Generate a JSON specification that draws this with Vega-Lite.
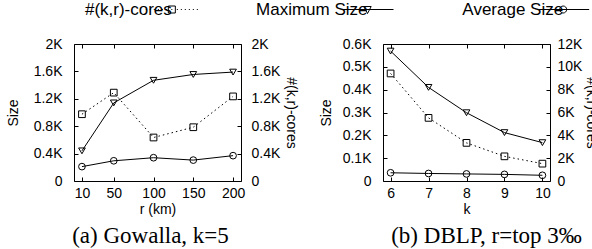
{
  "$schema": "https://vega.github.io/schema/vega-lite/v6.json",
  "padding": {"left": 5, "top": 0, "right": 0, "bottom": 0},
  "spacing": 17,
  "datasets": {
    "legend": [
      {"series": "#(k,r)-cores"},
      {"series": "Maximum Size"},
      {"series": "Average Size"}
    ],
    "gowalla": [
      {"r": 10, "series": "#(k,r)-cores", "value": 975},
      {"r": 50, "series": "#(k,r)-cores", "value": 1290},
      {"r": 100, "series": "#(k,r)-cores", "value": 635},
      {"r": 150, "series": "#(k,r)-cores", "value": 785},
      {"r": 200, "series": "#(k,r)-cores", "value": 1235},
      {"r": 10, "series": "Maximum Size", "value": 440},
      {"r": 50, "series": "Maximum Size", "value": 1140},
      {"r": 100, "series": "Maximum Size", "value": 1470},
      {"r": 150, "series": "Maximum Size", "value": 1555},
      {"r": 200, "series": "Maximum Size", "value": 1590},
      {"r": 10, "series": "Average Size", "value": 210},
      {"r": 50, "series": "Average Size", "value": 295},
      {"r": 100, "series": "Average Size", "value": 340},
      {"r": 150, "series": "Average Size", "value": 305},
      {"r": 200, "series": "Average Size", "value": 370}
    ],
    "dblp": [
      {"k": 6, "series": "#(k,r)-cores", "value": 9420},
      {"k": 7, "series": "#(k,r)-cores", "value": 5530},
      {"k": 8, "series": "#(k,r)-cores", "value": 3340},
      {"k": 9, "series": "#(k,r)-cores", "value": 2160},
      {"k": 10, "series": "#(k,r)-cores", "value": 1520},
      {"k": 6, "series": "Maximum Size", "value": 569},
      {"k": 7, "series": "Maximum Size", "value": 410},
      {"k": 8, "series": "Maximum Size", "value": 299},
      {"k": 9, "series": "Maximum Size", "value": 212},
      {"k": 10, "series": "Maximum Size", "value": 168},
      {"k": 6, "series": "Average Size", "value": 36},
      {"k": 7, "series": "Average Size", "value": 33},
      {"k": 8, "series": "Average Size", "value": 31},
      {"k": 9, "series": "Average Size", "value": 29},
      {"k": 10, "series": "Average Size", "value": 25}
    ]
  },
  "config": {
    "font": "Liberation Sans",
    "view": {"stroke": "black", "strokeWidth": 1},
    "axis": {
      "grid": false, "domain": false, "ticks": true, "tickColor": "black", "tickSize": -4, "tickWidth": 1,
      "labelFont": "Liberation Sans", "labelFontSize": 14, "labelColor": "black", "labelPadding": 9,
      "labelFlush": false, "labelOverlap": false,
      "titleFont": "Liberation Sans", "titleFontSize": 14, "titleFontWeight": "normal", "titleColor": "black"
    },
    "axisLeft": {"labelPadding": 16},
    "axisRight": {"labelPadding": 14},
    "title": {"font": "Liberation Serif", "fontSize": 23, "fontWeight": "normal", "color": "black"}
  },
  "resolve": {"scale": {"shape": "independent"}},
  "vconcat": [
    {
      "width": 587, "height": 19,
      "view": {"stroke": null},
      "data": {"name": "legend"},
      "layer": [
        {
          "mark": {"type": "text", "align": "right", "baseline": "middle", "font": "Liberation Sans", "fontSize": 17, "color": "black"},
          "encoding": {
            "x": {"field": "series", "type": "nominal", "bandPosition": 0.661,
                  "scale": {"domain": ["#(k,r)-cores", "Maximum Size", "Average Size"], "paddingInner": 0, "paddingOuter": 0},
                  "axis": null},
            "text": {"field": "series", "type": "nominal"}
          }
        },
        {
          "mark": {"type": "point", "filled": false, "color": "black", "strokeWidth": 1, "size": 49, "opacity": 1},
          "encoding": {
            "x": {"field": "series", "type": "nominal", "bandPosition": 0.855,
                  "scale": {"domain": ["#(k,r)-cores", "Maximum Size", "Average Size"], "paddingInner": 0, "paddingOuter": 0},
                  "axis": null},
            "shape": {"field": "series", "type": "nominal", "legend": null,
                      "scale": {"domain": ["#(k,r)-cores", "Maximum Size", "Average Size"],
                                "range": [
                                  "M-7.43,0h0.29M-6.29,0h0.29M-5.14,0h0.29M-4,0h0.29M-2.86,0h0.29M-1.71,0h0.29M-0.14,0h0.28M1.43,0h0.29M2.57,0h0.29M3.71,0h0.29M4.86,0h0.29M6,0h0.29M7.14,0h0.29M-1,-1H1V1H-1Z",
                                  "M-7.43,0H7.43M-1.05,-0.85H1.05L0,1.15Z",
                                  "M-7.43,0H7.43M-1,0A1,1,0,1,0,1,0A1,1,0,1,0,-1,0"
                                ]}}
          }
        }
      ]
    },
    {
      "spacing": 19,
      "hconcat": [
        {
          "width": 167, "height": 137,
          "data": {"name": "gowalla"},
          "title": {"text": "(a) Gowalla, k=5", "orient": "bottom", "anchor": "middle", "frame": "group", "offset": 9, "dx": -7},
          "layer": [
            {
              "transform": [{"filter": "datum.series !== '#(k,r)-cores'"}],
              "encoding": {
                "x": {"field": "r", "type": "quantitative", "scale": {"domain": [0, 210], "nice": false, "zero": false},
                      "axis": {"values": [10, 50, 100, 150, 200], "title": "r (km)", "titlePadding": 2}},
                "y": {"field": "value", "type": "quantitative", "scale": {"domain": [0, 2000], "nice": false},
                      "axis": {"values": [0, 400, 800, 1200, 1600, 2000], "title": "Size", "titlePadding": 13,
                               "labelExpr": "datum.value == 0 ? '0' : format(datum.value / 1000, '.1~f') + 'K'"}}
              },
              "layer": [
                {"mark": {"type": "line", "color": "black", "strokeWidth": 1}, "encoding": {"detail": {"field": "series", "type": "nominal"}}},
                {"mark": {"type": "point", "filled": false, "color": "black", "strokeWidth": 1, "size": 45, "opacity": 1},
                 "encoding": {"shape": {"field": "series", "type": "nominal", "legend": null,
                   "scale": {"domain": ["#(k,r)-cores", "Maximum Size", "Average Size"], "range": ["square", "triangle-down", "circle"]}}}}
              ]
            },
            {
              "transform": [{"filter": "datum.series === '#(k,r)-cores'"}],
              "encoding": {
                "x": {"field": "r", "type": "quantitative", "scale": {"domain": [0, 210], "nice": false, "zero": false},
                      "axis": {"orient": "top", "values": [10, 50, 100, 150, 200], "labels": false, "title": null}},
                "y": {"field": "value", "type": "quantitative", "scale": {"domain": [0, 2000], "nice": false},
                      "axis": {"orient": "right", "values": [0, 400, 800, 1200, 1600, 2000], "title": "#(k,r)-cores", "titlePadding": 4,
                               "labelExpr": "datum.value == 0 ? '0' : format(datum.value / 1000, '.1~f') + 'K'"}}
              },
              "layer": [
                {"mark": {"type": "line", "color": "black", "strokeWidth": 1, "strokeDash": [1.5, 3]}, "encoding": {}},
                {"mark": {"type": "point", "filled": false, "color": "black", "strokeWidth": 1, "size": 45, "opacity": 1},
                 "encoding": {"shape": {"field": "series", "type": "nominal", "legend": null,
                   "scale": {"domain": ["#(k,r)-cores", "Maximum Size", "Average Size"], "range": ["square", "triangle-down", "circle"]}}}}
              ]
            }
          ],
          "resolve": {"scale": {"y": "independent"}, "axis": {"x": "independent"}}
        },
        {
          "width": 167, "height": 137,
          "data": {"name": "dblp"},
          "title": {"text": "(b) DBLP, r=top 3‰", "orient": "bottom", "anchor": "middle", "frame": "group", "offset": 9, "dx": 20},
          "layer": [
            {
              "transform": [{"filter": "datum.series !== '#(k,r)-cores'"}],
              "encoding": {
                "x": {"field": "k", "type": "quantitative", "scale": {"domain": [5.8, 10.2], "nice": false, "zero": false},
                      "axis": {"values": [6, 7, 8, 9, 10], "title": "k", "titlePadding": 2}},
                "y": {"field": "value", "type": "quantitative", "scale": {"domain": [0, 600], "nice": false},
                      "axis": {"values": [0, 100, 200, 300, 400, 500, 600], "title": "Size", "titlePadding": 9,
                               "labelExpr": "datum.value == 0 ? '0' : format(datum.value / 1000, '.1~f') + 'K'"}}
              },
              "layer": [
                {"mark": {"type": "line", "color": "black", "strokeWidth": 1}, "encoding": {"detail": {"field": "series", "type": "nominal"}}},
                {"mark": {"type": "point", "filled": false, "color": "black", "strokeWidth": 1, "size": 45, "opacity": 1},
                 "encoding": {"shape": {"field": "series", "type": "nominal", "legend": null,
                   "scale": {"domain": ["#(k,r)-cores", "Maximum Size", "Average Size"], "range": ["square", "triangle-down", "circle"]}}}}
              ]
            },
            {
              "transform": [{"filter": "datum.series === '#(k,r)-cores'"}],
              "encoding": {
                "x": {"field": "k", "type": "quantitative", "scale": {"domain": [5.8, 10.2], "nice": false, "zero": false},
                      "axis": {"orient": "top", "values": [6, 7, 8, 9, 10], "labels": false, "title": null}},
                "y": {"field": "value", "type": "quantitative", "scale": {"domain": [0, 12000], "nice": false},
                      "axis": {"orient": "right", "values": [0, 2000, 4000, 6000, 8000, 10000, 12000], "title": "#(k,r)-cores", "titlePadding": 2, "labelPadding": 11,
                               "labelExpr": "datum.value == 0 ? '0' : format(datum.value / 1000, '.1~f') + 'K'"}}
              },
              "layer": [
                {"mark": {"type": "line", "color": "black", "strokeWidth": 1, "strokeDash": [1.5, 3]}, "encoding": {}},
                {"mark": {"type": "point", "filled": false, "color": "black", "strokeWidth": 1, "size": 45, "opacity": 1},
                 "encoding": {"shape": {"field": "series", "type": "nominal", "legend": null,
                   "scale": {"domain": ["#(k,r)-cores", "Maximum Size", "Average Size"], "range": ["square", "triangle-down", "circle"]}}}}
              ]
            }
          ],
          "resolve": {"scale": {"y": "independent"}, "axis": {"x": "independent"}}
        }
      ]
    }
  ]
}
